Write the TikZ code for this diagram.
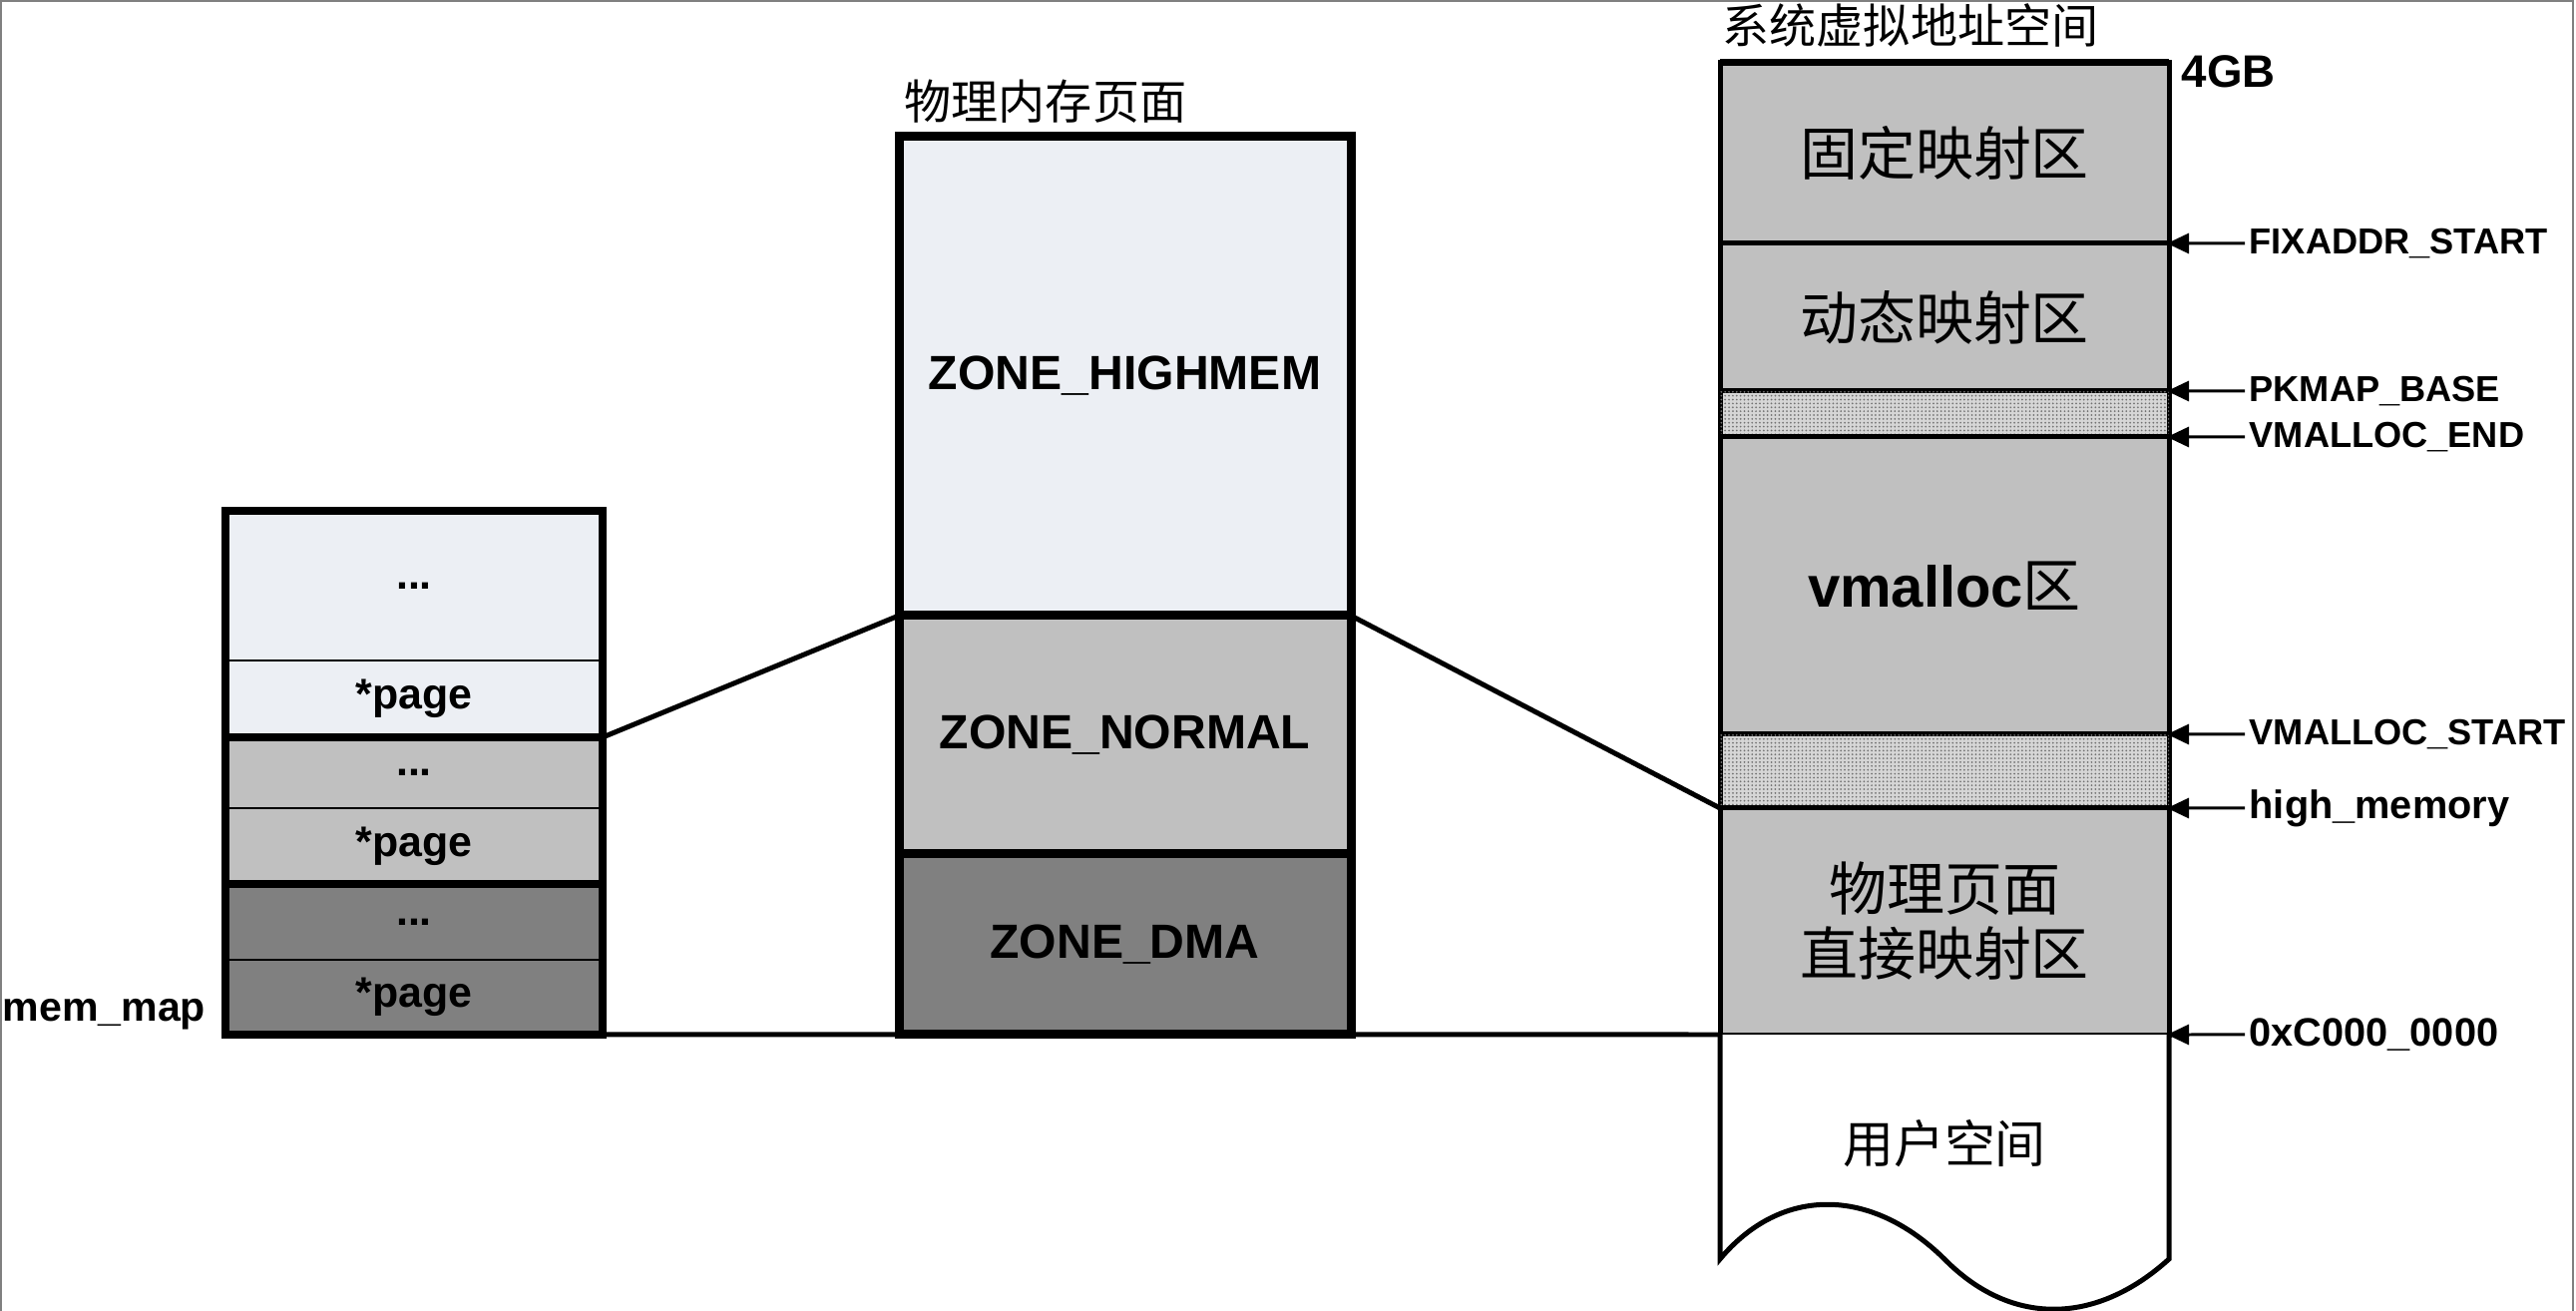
\documentclass[tikz,border=0pt]{standalone}
\usepackage{fontspec}
\setmainfont{Liberation Sans}
\newfontfamily\cjk{Noto Sans CJK SC}
\usetikzlibrary{arrows.meta,positioning,patterns}
\definecolor{zoneHigh}{RGB}{236,239,244}
\definecolor{zoneNorm}{RGB}{192,192,192}
\definecolor{zoneDma}{RGB}{128,128,128}
\definecolor{holeGray}{RGB}{214,214,214}
\definecolor{frameGray}{RGB}{128,128,128}

% fine dot texture for the guard gaps
\pgfdeclarepatternformonly{finedots}{\pgfqpoint{-0.1pt}{-0.1pt}}{\pgfqpoint{1.2pt}{1.2pt}}%
  {\pgfqpoint{1.1pt}{1.1pt}}{\pgfpathcircle{\pgfqpoint{0.3pt}{0.3pt}}{0.28pt}\pgfusepath{fill}}

\tikzset{
  pagecell/.style={rectangle, draw=black, line width=0.25mm, minimum width=37.8mm,
        inner sep=0pt, outer sep=0pt, font=\fontsize{12.2}{14}\selectfont\bfseries},
  zonecell/.style={rectangle, draw=black, line width=0.9mm, minimum width=45.3mm,
        inner sep=0pt, outer sep=0pt, font=\fontsize{13.7}{16}\selectfont\bfseries},
  vcell/.style={rectangle, draw=black, line width=0.5mm, minimum width=45mm, fill=zoneNorm,
        inner sep=0pt, outer sep=0pt, font=\fontsize{16.5}{18.5}\selectfont\cjk},
  hole/.style={vcell, fill=holeGray, postaction={pattern=finedots, pattern color=black!55}},
  addr/.style={anchor=west, inner sep=0.4mm, font=\fontsize{10.3}{12}\selectfont\bfseries},
  bigaddr/.style={addr, font=\fontsize{11.3}{13}\selectfont\bfseries},
  ptr/.style={-{Triangle[length=2.2mm,width=2mm]}, line width=0.3mm, shorten >=-0.2mm},
  link/.style={line width=0.5mm},
  zonetitle/.style={anchor=west, inner sep=0pt, font=\fontsize{13.4}{15}\selectfont\cjk}
}

\begin{document}
\begin{tikzpicture}[x=1cm, y=-1cm]
  \useasboundingbox (0,0) rectangle (25.82,13.14);
  \draw[frameGray, line width=0.2mm] (0.01,13.14) -- (0.01,0.01) -- (25.79,0.01) -- (25.79,13.14);

  % mem_map
  \node[pagecell, fill=zoneHigh, minimum height=15mm, anchor=north west] (hdots) at (2.26,5.12) {...};
  \node[pagecell, fill=zoneHigh, minimum height=7.7mm, below=0pt of hdots] (hpage) {*page};
  \node[pagecell, fill=zoneNorm, minimum height=7.1mm, below=0pt of hpage] (ndots) {...};
  \node[pagecell, fill=zoneNorm, minimum height=7.6mm, below=0pt of ndots] (npage) {*page};
  \node[pagecell, fill=zoneDma, minimum height=7.6mm, below=0pt of npage] (ddots) {...};
  \node[pagecell, fill=zoneDma, minimum height=7.5mm, below=0pt of ddots] (dpage) {*page};
  \draw[line width=0.8mm] (hdots.north west) rectangle (dpage.south east);
  \draw[line width=0.8mm] (hpage.south west) -- (hpage.south east);
  \draw[line width=0.8mm] (npage.south west) -- (npage.south east);
  \node[anchor=base west, inner sep=0pt, font=\fontsize{11.7}{13}\selectfont\bfseries]
    (memmap) at (0.02,10.24) {mem\_map};

  % physical zones
  \node[zonecell, fill=zoneHigh, minimum height=48mm, anchor=north west] (high) at (9.01,1.37) {ZONE\_HIGHMEM};
  \node[zonecell, fill=zoneNorm, minimum height=23.9mm, below=0pt of high] (normal) {ZONE\_NORMAL};
  \node[zonecell, fill=zoneDma, minimum height=18.1mm, below=0pt of normal] (dma) {ZONE\_DMA};
  \node[zonetitle] (phys) at (9.06,1.02) {物理内存页面};

  % kernel virtual space
  \node[vcell, minimum height=18.1mm, anchor=north west] (fixmap) at (17.24,0.63) {固定映射区};
  \node[vcell, minimum height=14.8mm, below=0pt of fixmap] (kmap) {动态映射区};
  \node[hole, minimum height=4.6mm, below=0pt of kmap] (gapa) {};
  \node[vcell, minimum height=29.8mm, below=0pt of gapa] (vmalloc) {{\normalfont\bfseries vmalloc}区};
  \node[hole, minimum height=7.4mm, below=0pt of vmalloc] (gapb) {};
  \node[vcell, minimum height=22.7mm, below=0pt of gapb, align=center] (direct) {物理页面\\直接映射区};
  \draw[line width=0.7mm] (fixmap.north west) -- (fixmap.north east);
  \node[zonetitle] (virt) at (17.26,0.25) {系统虚拟地址空间};
  \node[anchor=west, inner sep=0pt, font=\fontsize{13}{15}\selectfont\bfseries] (top) at (21.86,0.72) {4GB};

  % user space, torn bottom
  \coordinate (userL) at (17.24,12.62);
  \coordinate (userR) at (21.74,12.62);
  \draw[line width=0.5mm, fill=white] (direct.south west) -- (userL)
    .. controls (17.85,11.89) and (18.75,11.89) .. (19.49,12.62)
    .. controls (20.15,13.29) and (21.00,13.29) .. (userR) -- (direct.south east);
  \node[font=\fontsize{14.5}{16}\selectfont\cjk] (user) at (19.49,11.46) {用户空间};

  % addresses
  \node[addr] (lfix) at (22.50,2.44) {FIXADDR\_START};
  \node[addr] (lpkmap) at (22.50,3.92) {PKMAP\_BASE};
  \node[addr] (lvmend) at (22.50,4.38) {VMALLOC\_END};
  \node[addr] (lvmstart) at (22.50,7.36) {VMALLOC\_START};
  \node[bigaddr] (lhigh) at (22.50,8.10) {high\_memory};
  \node[bigaddr] (lbase) at (22.50,10.37) {0xC000\_0000};
  \draw[ptr] (lfix.west) -- (fixmap.south east);
  \draw[ptr] (lpkmap.west) -- (kmap.south east);
  \draw[ptr] (lvmend.west) -- (gapa.south east);
  \draw[ptr] (lvmstart.west) -- (vmalloc.south east);
  \draw[ptr] (lhigh.west) -- (gapb.south east);
  \draw[ptr] (lbase.west) -- (direct.south east);

  % zone links
  \draw[link] (hpage.south east) -- (high.south west);
  \draw[link] (high.south east) -- (gapb.south west);
  \draw[link] (dpage.south east) -- (dma.south west);
  \draw[link] (dma.south east) -- (direct.south west);
\end{tikzpicture}
\end{document}
